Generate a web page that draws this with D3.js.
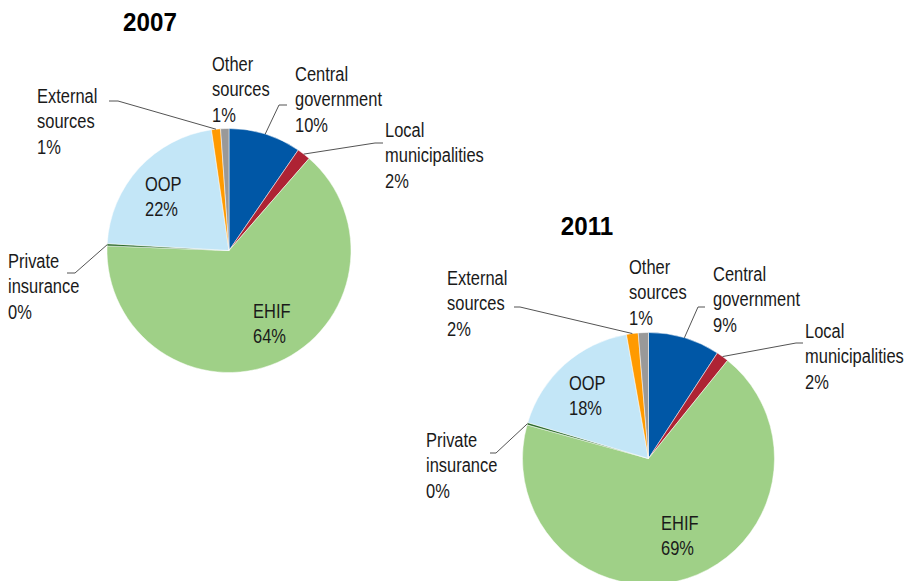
<!DOCTYPE html>
<html>
<head>
<meta charset="utf-8">
<script src="https://cdn.jsdelivr.net/npm/d3@7"></script>
<style>
  body { margin: 0; background: #fff; }
  text { font-family: "Liberation Sans", Arial, sans-serif; fill: #1a1a1a; }
</style>
</head>
<body>
<svg id="chart" width="906" height="581"></svg>
<script>
// data
const sources = ["Central government", "Local municipalities", "EHIF", "Private insurance", "OOP", "External sources", "Other sources"];
const sourceLines = [["Central", "government"], ["Local", "municipalities"], ["EHIF"], ["Private", "insurance"], ["OOP"], ["External", "sources"], ["Other", "sources"]];
const colors = ["#0057a6", "#ae2334", "#9fd087", "#2b6b2b", "#c3e6f7", "#ff9a00", "#999999"];
const years = ["2007", "2011"];
const share2007 = [9.6, 1.8, 64.2, 0.3, 21.8, 1.2, 1.1];
const share2011 = [9.2, 1.6, 68.5, 0.3, 17.6, 1.5, 1.3];

// layout (pixels) - label anchor, and for outside labels the leader start + elbow
const layouts = [
  {
    cx: 229, cy: 250.5, r: 122, title: [150, 31],
    labels: [
      { x: 295, y: 81, line: [[287, 105], [279, 105]] },
      { x: 385, y: 137, line: [[383, 143], [375, 143]] },
      { x: 253, y: 318 },
      { x: 8, y: 268, line: [[67, 273], [75, 273]] },
      { x: 145, y: 191 },
      { x: 37, y: 103, line: [[109, 101], [118, 101]] },
      { x: 212, y: 71 }
    ]
  },
  {
    cx: 648.5, cy: 458.5, r: 126, title: [587, 235],
    labels: [
      { x: 713, y: 281, line: [[705, 307], [698, 307]] },
      { x: 805, y: 338, line: [[803, 343], [796, 343]] },
      { x: 661, y: 530 },
      { x: 426, y: 447, line: [[490, 453], [496, 453]] },
      { x: 569, y: 390 },
      { x: 447, y: 285, line: [[514, 307], [520, 307]] },
      { x: 629, y: 274 }
    ]
  }
];

const lineH = 25.3;
const narrow = 0.785; // no Arial Narrow here, so squeeze Liberation Sans
const svg = d3.select("#chart");
const pie = d3.pie().sort(null).value((d) => d);

[share2007, share2011].forEach((shares, k) => {
  const L = layouts[k];
  const g = svg.append("g").attr("transform", "translate(" + L.cx + "," + L.cy + ")");
  const arc = d3.arc().innerRadius(0).outerRadius(L.r);
  const rim = d3.arc().innerRadius(L.r).outerRadius(L.r);
  const arcs = pie(shares);

  g.selectAll("path.slice")
    .data(arcs)
    .enter().append("path")
      .attr("class", "slice")
      .attr("d", arc)
      .attr("fill", (d, i) => colors[i])
      .attr("stroke", "#fff")
      .attr("stroke-width", 0.5);

  svg.append("text")
    .attr("transform", "translate(" + L.title[0] + "," + L.title[1] + ") scale(0.93,1)")
    .attr("text-anchor", "middle")
    .attr("font-size", 26).attr("font-weight", "bold")
    .style("fill", "#000")
    .text(years[k]);

  arcs.forEach((d, i) => {
    const lab = L.labels[i];
    if (lab.line) {
      const p = rim.centroid(d);
      const pts = lab.line.concat([[p[0] + L.cx, p[1] + L.cy]]);
      svg.append("path")
        .attr("d", d3.line()(pts))
        .attr("fill", "none")
        .attr("stroke", "#404040")
        .attr("stroke-width", 0.9);
    }
    const rows = sourceLines[i].concat([Math.round(shares[i]) + "%"]);
    const t = svg.append("text")
      .attr("transform", "translate(" + lab.x + "," + lab.y + ") scale(" + narrow + ",1)")
      .attr("font-size", 21);
    rows.forEach((row, j) => {
      t.append("tspan").attr("x", 0).attr("y", j * lineH).text(row);
    });
  });
});
</script>
</body>
</html>
